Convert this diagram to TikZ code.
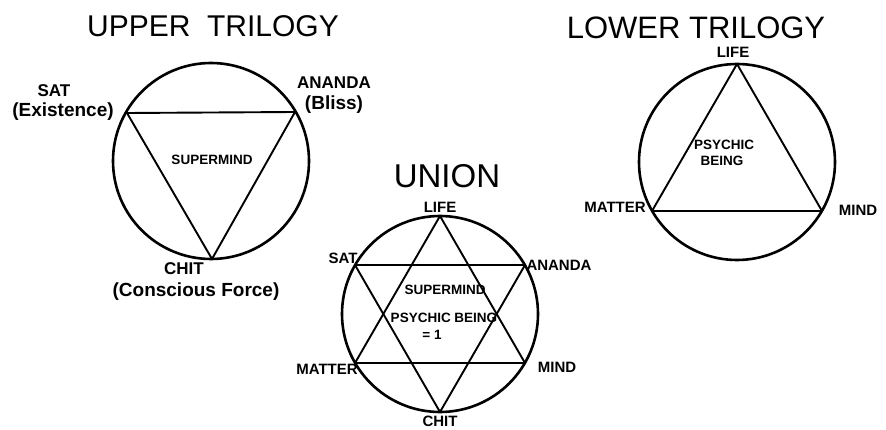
\documentclass[tikz,border=0pt]{standalone}
\usepackage{fontspec}
\setmainfont{Liberation Sans}
\begin{document}
\begin{tikzpicture}[x=1pt,y=-1pt,
  ring/.style={line width=2.6pt},
  tri/.style={line width=1.9pt, line join=round, line cap=round},
  ttl/.style={inner sep=0pt, font=\fontsize{30}{30}\selectfont},
  lbl/.style={inner sep=0pt, font=\bfseries\fontsize{15}{15}\selectfont},
  biglbl/.style={inner sep=0pt, font=\bfseries\fontsize{17}{17}\selectfont},
  paren/.style={inner sep=0pt, font=\bfseries\fontsize{19}{19}\selectfont},
  ctr/.style={inner sep=0pt, font=\bfseries\fontsize{13.5}{13.5}\selectfont}]
\useasboundingbox (0,0) rectangle (886,430);

% ---------- Upper trilogy ----------
\coordinate (U) at (211,161);
\coordinate (usat) at (127,113);
\coordinate (uan) at (295,112);
\coordinate (uchit) at (212,259);
\draw[ring] (U) circle (98pt);
\draw[tri] (usat) -- (uan) -- (uchit) -- cycle;
\node[ttl] (utitle) at (213,26) {UPPER\ \ TRILOGY};
\node[biglbl] (usatl) at (54,91) {SAT};
\node[paren] (uexist) at (63,112) {(Existence)};
\node[biglbl] (uanl) at (334,83) {ANANDA};
\node[paren] (ubliss) at (334,105) {(Bliss)};
\node[biglbl] (uchitl) at (184,269) {CHIT};
\node[paren] (ucf) at (196,292) {(Conscious Force)};
\node[ctr] (usm) at (212,160) {SUPERMIND};

% ---------- Union ----------
\coordinate (N) at (440,314);
\coordinate (nlife) at (440,216);
\coordinate (nsat) at (355,265);
\coordinate (nan) at (525,265);
\coordinate (nmat) at (355,363);
\coordinate (nmind) at (525,363);
\coordinate (nchit) at (440,412);
\draw[ring] (N) circle (98pt);
\draw[tri] (nlife) -- (nmat) -- (nmind) -- cycle;
\draw[tri] (nsat) -- (nan) -- (nchit) -- cycle;
\node[inner sep=0pt, font=\fontsize{33}{33}\selectfont] (ntitle) at (447,176) {UNION};
\node[lbl] (nlifel) at (440,207) {LIFE};
\node[lbl] (nsatl) at (343,258) {SAT};
\node[lbl] (nanl) at (559,265) {ANANDA};
\node[lbl] (nmatl) at (327,369) {MATTER};
\node[lbl] (nmindl) at (557,367) {MIND};
\node[lbl] (nchitl) at (440,421) {CHIT};
\node[ctr] (nsm) at (445,290) {SUPERMIND};
\node[ctr] (npb) at (444,318) {PSYCHIC BEING};
\node[ctr] (neq) at (432,335) {= 1};

% ---------- Lower trilogy ----------
\coordinate (L) at (737,162);
\coordinate (llife) at (737,64);
\coordinate (lmat) at (652,211);
\coordinate (lmind) at (822,211);
\draw[ring] (L) circle (98pt);
\draw[tri] (llife) -- (lmat) -- (lmind) -- cycle;
\node[ttl, font=\fontsize{31}{31}\selectfont] (ltitle) at (696,28) {LOWER TRILOGY};
\node[lbl] (llifel) at (733,52) {LIFE};
\node[lbl] (lmatl) at (615,207) {MATTER};
\node[lbl] (lmindl) at (858,210) {MIND};
\node[ctr] (lps) at (724,145) {PSYCHIC};
\node[ctr] (lbe) at (722,161) {BEING};
\end{tikzpicture}
\end{document}
